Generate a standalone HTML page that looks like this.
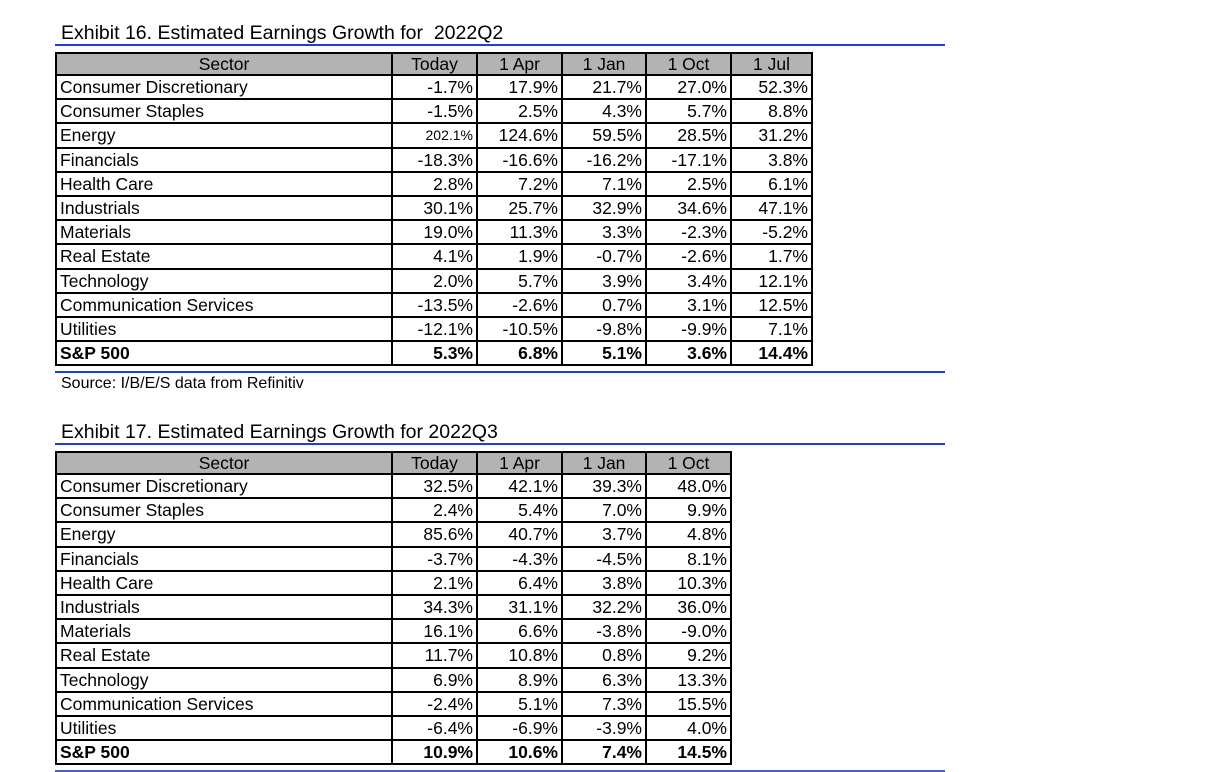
<!DOCTYPE html>
<html><head><meta charset="utf-8"><style>
body{margin:0;width:1220px;height:772px;background:#fff;position:relative;font-family:"Liberation Sans",Arial,sans-serif;color:#000;overflow:hidden}
.t{position:absolute;font-size:19.5px;left:61px}
.bl{position:absolute;left:55px;width:890px;height:2px;background:#1a3fe0}
table{position:absolute;left:55px;border-collapse:collapse;font-size:17.5px;table-layout:fixed}
td{border:2px solid #000;height:22.2px;padding:0 3px;line-height:20px;text-align:right;white-space:nowrap}
td:first-child{text-align:left}
tr.h td{background:#b3b3b3;text-align:center;height:20px}
tr.b td{font-weight:bold}
.s{position:absolute;left:61px;top:375px;font-size:16px}
</style></head><body>
<div class="t" style="top:22px">Exhibit 16. Estimated Earnings Growth for &nbsp;2022Q2</div>
<div class="bl" style="top:44px"></div>
<table style="top:52px;width:756px">
<colgroup><col style="width:336px"><col style="width:85px"><col style="width:85px"><col style="width:84px"><col style="width:85px"><col style="width:81px"></colgroup>
<tr class="h"><td>Sector</td><td>Today</td><td>1 Apr</td><td>1 Jan</td><td>1 Oct</td><td>1 Jul</td></tr>
<tr><td>Consumer Discretionary</td><td>-1.7%</td><td>17.9%</td><td>21.7%</td><td>27.0%</td><td>52.3%</td></tr>
<tr><td>Consumer Staples</td><td>-1.5%</td><td>2.5%</td><td>4.3%</td><td>5.7%</td><td>8.8%</td></tr>
<tr><td>Energy</td><td style="font-size:14px">202.1%</td><td>124.6%</td><td>59.5%</td><td>28.5%</td><td>31.2%</td></tr>
<tr><td>Financials</td><td>-18.3%</td><td>-16.6%</td><td>-16.2%</td><td>-17.1%</td><td>3.8%</td></tr>
<tr><td>Health Care</td><td>2.8%</td><td>7.2%</td><td>7.1%</td><td>2.5%</td><td>6.1%</td></tr>
<tr><td>Industrials</td><td>30.1%</td><td>25.7%</td><td>32.9%</td><td>34.6%</td><td>47.1%</td></tr>
<tr><td>Materials</td><td>19.0%</td><td>11.3%</td><td>3.3%</td><td>-2.3%</td><td>-5.2%</td></tr>
<tr><td>Real Estate</td><td>4.1%</td><td>1.9%</td><td>-0.7%</td><td>-2.6%</td><td>1.7%</td></tr>
<tr><td>Technology</td><td>2.0%</td><td>5.7%</td><td>3.9%</td><td>3.4%</td><td>12.1%</td></tr>
<tr><td>Communication Services</td><td>-13.5%</td><td>-2.6%</td><td>0.7%</td><td>3.1%</td><td>12.5%</td></tr>
<tr><td>Utilities</td><td>-12.1%</td><td>-10.5%</td><td>-9.8%</td><td>-9.9%</td><td>7.1%</td></tr>
<tr class="b"><td>S&amp;P 500</td><td>5.3%</td><td>6.8%</td><td>5.1%</td><td>3.6%</td><td>14.4%</td></tr>
</table>
<div class="bl" style="top:371px"></div>
<div class="s">Source: I/B/E/S data from Refinitiv</div>
<div class="t" style="top:421px">Exhibit 17. Estimated Earnings Growth for 2022Q3</div>
<div class="bl" style="top:443px"></div>
<table style="top:451px;width:675px">
<colgroup><col style="width:336px"><col style="width:85px"><col style="width:85px"><col style="width:84px"><col style="width:85px"></colgroup>
<tr class="h"><td>Sector</td><td>Today</td><td>1 Apr</td><td>1 Jan</td><td>1 Oct</td></tr>
<tr><td>Consumer Discretionary</td><td>32.5%</td><td>42.1%</td><td>39.3%</td><td>48.0%</td></tr>
<tr><td>Consumer Staples</td><td>2.4%</td><td>5.4%</td><td>7.0%</td><td>9.9%</td></tr>
<tr><td>Energy</td><td>85.6%</td><td>40.7%</td><td>3.7%</td><td>4.8%</td></tr>
<tr><td>Financials</td><td>-3.7%</td><td>-4.3%</td><td>-4.5%</td><td>8.1%</td></tr>
<tr><td>Health Care</td><td>2.1%</td><td>6.4%</td><td>3.8%</td><td>10.3%</td></tr>
<tr><td>Industrials</td><td>34.3%</td><td>31.1%</td><td>32.2%</td><td>36.0%</td></tr>
<tr><td>Materials</td><td>16.1%</td><td>6.6%</td><td>-3.8%</td><td>-9.0%</td></tr>
<tr><td>Real Estate</td><td>11.7%</td><td>10.8%</td><td>0.8%</td><td>9.2%</td></tr>
<tr><td>Technology</td><td>6.9%</td><td>8.9%</td><td>6.3%</td><td>13.3%</td></tr>
<tr><td>Communication Services</td><td>-2.4%</td><td>5.1%</td><td>7.3%</td><td>15.5%</td></tr>
<tr><td>Utilities</td><td>-6.4%</td><td>-6.9%</td><td>-3.9%</td><td>4.0%</td></tr>
<tr class="b"><td>S&amp;P 500</td><td>10.9%</td><td>10.6%</td><td>7.4%</td><td>14.5%</td></tr>
</table>
<div class="bl" style="top:770px;background:#5060c0"></div>
</body></html>
